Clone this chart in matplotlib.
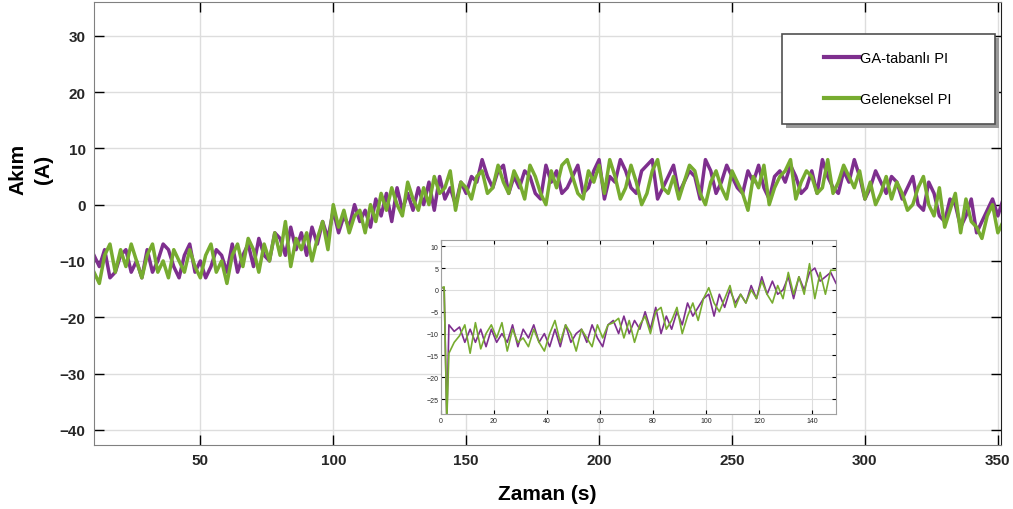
import numpy as np
import matplotlib.pyplot as plt
from matplotlib.patches import Rectangle

plt.rcParams['font.family'] = ['Liberation Sans', 'DejaVu Sans']

# zaman ekseni (ana grafik, 2 s aralik)
t_main = np.arange(10, 353, 2)

ga_pi = [
    -9, -11, -8, -13, -12, -9, -8, -12, -10, -13,
    -8, -12, -10, -7, -8, -11, -13, -9, -7, -12,
    -10, -13, -11, -8, -9, -12, -7, -12, -9, -7,
    -11, -6, -9, -10, -5, -6, -9, -4, -8, -5,
    -9, -4, -7, -3, -6, -1, -5, -2, -4, 0,
    -3, -1, -4, 1, -2, 2, -3, 3, -1, 2,
    -1, 3, 0, 4, -1, 5, 1, 3, 0, 4,
    2, 5, 4, 8, 5, 3, 6, 7, 2, 5,
    3, 6, 5, 2, 1, 7, 4, 6, 2, 3,
    5, 7, 2, 3, 6, 8, 1, 5, 4, 8,
    6, 3, 2, 6, 7, 8, 1, 3, 5, 7,
    2, 4, 6, 5, 1, 8, 6, 2, 4, 7,
    5, 3, 2, 6, 4, 7, 3, 1, 5, 6,
    4, 7, 5, 2, 3, 6, 2, 8, 5, 3,
    2, 6, 4, 8, 5, 1, 3, 6, 4, 2,
    5, 4, 1, 3, 5, 0, -1, 4, 2, -2,
    -3, 1, 0, -4, -2, 1, -5, -3, -1, 1,
    -2, 1,
]

geleneksel_pi = [
    -12, -14, -9, -7, -12, -8, -11, -7, -10, -13,
    -9, -7, -12, -10, -13, -8, -10, -12, -8, -11,
    -13, -9, -7, -12, -10, -14, -9, -7, -11, -6,
    -8, -12, -7, -10, -5, -9, -3, -11, -6, -8,
    -5, -10, -6, -3, -8, 0, -4, -1, -5, -2,
    -1, -5, 0, -3, 2, -1, 3, 0, -2, 4,
    1, -1, 3, 0, 5, 2, 3, 6, -1, 4,
    3, 1, 5, 6, 2, 3, 7, 4, 2, 6,
    4, 1, 7, 5, 2, 0, 6, 3, 7, 8,
    5, 2, 1, 6, 4, 7, 2, 8, 5, 1,
    3, 7, 4, 0, 2, 6, 8, 3, 2, 5,
    1, 4, 7, 6, 2, 0, 4, 6, 3, 1,
    6, 4, 2, -1, 5, 3, 7, 0, 3, 5,
    6, 8, 1, 4, 6, 5, 2, 3, 8, 2,
    4, 7, 5, 3, 6, 1, 4, 0, 2, 5,
    1, 4, 2, -1, 0, 3, 5, 0, -2, 3,
    -4, -1, 2, -5, 1, -3, -4, -6, -2, 0,
    -5, -3,
]

# ic grafik (ilk 150 s)
t_ins = np.concatenate([[0.5, 1.2, 2.2], np.arange(3, 150, 2)])

ga_ins = [
    0.5, 0.5, -30,
    -8, -9.5, -8.5, -12, -9, -12, -9, -13, -9, -12,
    -10, -12, -8, -13, -9, -11, -8, -12, -10, -13,
    -9, -13, -8, -12, -10, -9, -12, -8, -11, -13,
    -8, -7, -10, -6, -10, -7, -9, -5, -9, -4,
    -10, -6, -9, -5, -8, -3, -6, -4, -2, -1,
    -6, -1, -4, 0, -3, -1, -3, 1, -2, 3,
    -1, 2, -1, 0, 3, -2, 3, 0, 4, 5,
    2, 3, 4, 1.5,
]

gel_ins = [
    0.5, 0.7, -30,
    -14.5, -12, -10.5, -8, -14.5, -7.5, -13.5, -10, -8, -11,
    -7.5, -14, -9, -12, -11, -13, -9, -12, -14, -10,
    -7, -12, -8, -10, -14, -9, -11, -13, -8, -11,
    -8, -7.5, -6.5, -11, -7, -12, -8, -6, -10, -5,
    -4, -9, -7, -4, -10, -6, -3, -7, -2, 0.5,
    -3, -5, -2, 1, -4, -1, -3, 0, -2, 2,
    -1, -3, 1, -2, 4, -1, 3, -1, 6, -2,
    4, -1, 4.5, 4.5,
]

mor = '#7E2F8E'
yesil = '#77AC30'

fig = plt.figure(figsize=(10.13, 5.10), dpi=100)
ax = fig.add_axes([0.0928, 0.1255, 0.8954, 0.8686])

ax.plot(t_main, ga_pi, color=mor, linewidth=2.5, label='GA-tabanlı PI')
ax.plot(t_main, geleneksel_pi, color=yesil, linewidth=2.5, label='Geleneksel PI')

ax.set_xlim(10, 351.2)
ax.set_ylim(-42.7, 36)
ax.set_xticks([50, 100, 150, 200, 250, 300, 350])
ax.set_yticks([-40, -30, -20, -10, 0, 10, 20, 30])
ax.grid(True, color='#dddddd', linewidth=1)
ax.set_axisbelow(True)
ax.tick_params(direction='in', length=7, width=1, top=True, right=True,
               labelsize=11, labelcolor='#262626', pad=6)
for lab in ax.get_xticklabels() + ax.get_yticklabels():
    lab.set_fontweight('bold')
for s in ['left', 'top', 'bottom']:
    ax.spines[s].set_color('#808080')
ax.spines['right'].set_color('#202020')

ax.set_ylabel('Akım\n(A)', fontsize=15, fontweight='bold', linespacing=1.45)
ax.yaxis.set_label_coords(-0.045, 0.625)
ax.set_xlabel('Zaman (s)', fontsize=15, fontweight='bold', labelpad=12)

# lejant kutusu + golge
fig.patches.append(Rectangle((786 / 1013, (510 - 129) / 510), 213 / 1013, 90 / 510,
                             transform=fig.transFigure, facecolor='#9a9a9a',
                             edgecolor='none', zorder=5))
fig.patches.append(Rectangle((782 / 1013, (510 - 125) / 510), 213 / 1013, 90 / 510,
                             transform=fig.transFigure, facecolor='white',
                             edgecolor='#505050', linewidth=1.2, zorder=6))
leg = fig.legend(loc='upper left', bbox_to_anchor=(824 / 1013, (510 - 52) / 510),
                 fontsize=10.5, frameon=False, handlelength=2.4, handletextpad=0.1,
                 labelspacing=1.85, borderpad=0, borderaxespad=0)
leg.set_zorder(7)
for h in leg.get_lines():
    h.set_linewidth(3)

# ic grafik
axi = fig.add_axes([0.4353, 0.1863, 0.390, 0.341])
axi.plot(t_ins, ga_ins, color=mor, linewidth=1.2)
axi.plot(t_ins, gel_ins, color=yesil, linewidth=1.2)
axi.set_xlim(0, 149)
axi.set_ylim(-28.4, 11.4)
axi.set_xticks([0, 20, 40, 60, 80, 100, 120, 140])
axi.set_yticks([-25, -20, -15, -10, -5, 0, 5, 10])
axi.grid(True, color='#dddddd', linewidth=0.8)
axi.set_axisbelow(True)
axi.tick_params(direction='in', length=3, width=0.8, top=True, right=True,
                labelsize=5, labelcolor='#262626', pad=2)
for s in axi.spines.values():
    s.set_color('#a0a0a0')

fig.savefig('out.png', dpi=100)
